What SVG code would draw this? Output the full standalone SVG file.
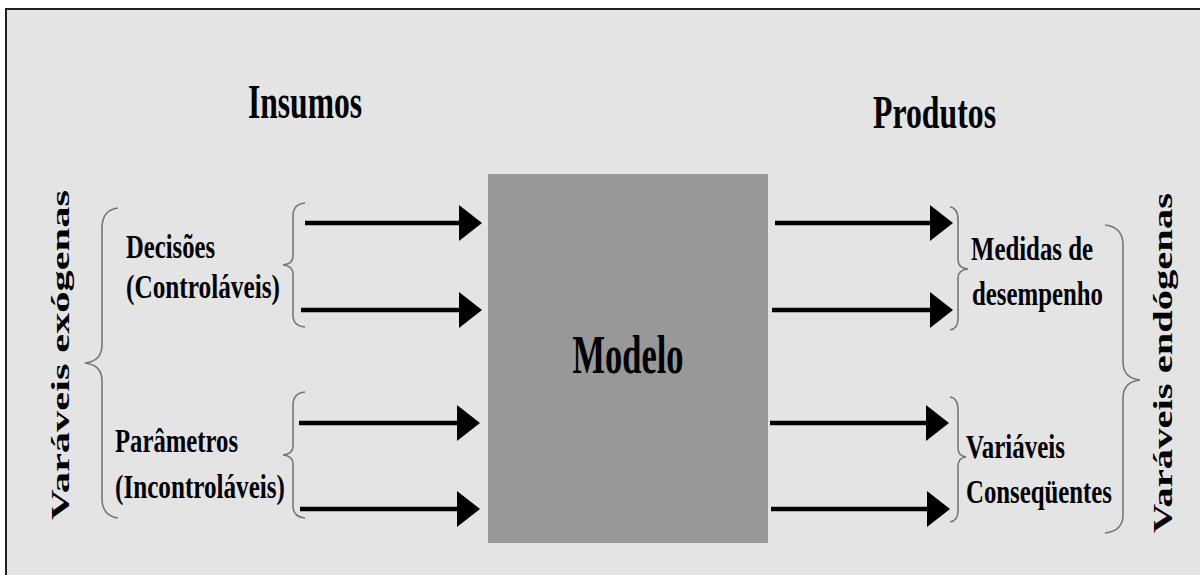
<svg xmlns="http://www.w3.org/2000/svg" width="1200" height="575" viewBox="0 0 1200 575">
<defs>
<style>
.t{font-family:"Liberation Serif","Times New Roman",serif;font-weight:bold;fill:#000}
.br{fill:none;stroke:#777;stroke-width:1.6}
.ln{stroke:#000;stroke-width:4.5;fill:none}
.hd{fill:#000}
</style>
</defs>
<rect x="0" y="0" width="1200" height="575" fill="#ffffff"/>
<rect x="6" y="9" width="1200" height="580" fill="#e4e4e4" stroke="#222" stroke-width="2"/>
<g id="modelo">
<rect x="488" y="174" width="280" height="369" fill="#989898"/>
<text class="t" x="628" y="373" font-size="54" text-anchor="middle" textLength="111" lengthAdjust="spacingAndGlyphs">Modelo</text>
</g>
<g id="titulos">
<text class="t" x="248" y="118" font-size="48" textLength="114" lengthAdjust="spacingAndGlyphs">Insumos</text>
<text class="t" x="873" y="128" font-size="46" textLength="123" lengthAdjust="spacingAndGlyphs">Produtos</text>
</g>
<g id="exogenas">
<text class="t" transform="translate(69,520) rotate(-90)" font-size="26" textLength="330" lengthAdjust="spacingAndGlyphs">Varáveis exógenas</text>
<path class="br" d="M118,208 Q102,210 102,228 L102,345 Q102,361 85,363 Q102,365 102,381 L102,498 Q102,516 118,518"/>
</g>
<g id="endogenas">
<text class="t" transform="translate(1172,533) rotate(-90)" font-size="28" textLength="340" lengthAdjust="spacingAndGlyphs">Varáveis endógenas</text>
<path class="br" d="M1105,225 Q1123,227 1123,245 L1123,362 Q1123,378 1140,380 Q1123,382 1123,398 L1123,515 Q1123,531 1105,533"/>
</g>
<g id="decisoes">
<text class="t" x="126" y="258" font-size="34" textLength="89" lengthAdjust="spacingAndGlyphs">Decisões</text>
<text class="t" x="126" y="298" font-size="34" textLength="154" lengthAdjust="spacingAndGlyphs">(Controláveis)</text>
<path class="br" d="M305,203 Q293,204 293,216 L293,256 Q293,264 283,265 Q293,266 293,274 L293,315 Q293,326 305,327"/>
</g>
<g id="parametros">
<text class="t" x="115" y="452" font-size="34" textLength="123" lengthAdjust="spacingAndGlyphs">Parâmetros</text>
<text class="t" x="115" y="498" font-size="34" textLength="170" lengthAdjust="spacingAndGlyphs">(Incontroláveis)</text>
<path class="br" d="M305,392 Q293,393 293,405 L293,446 Q293,454 283,455 Q293,456 293,464 L293,506 Q293,517 305,518"/>
</g>
<g id="medidas">
<text class="t" x="971" y="260" font-size="34" textLength="122" lengthAdjust="spacingAndGlyphs">Medidas de</text>
<text class="t" x="972" y="305" font-size="34" textLength="131" lengthAdjust="spacingAndGlyphs">desempenho</text>
<path class="br" d="M950,207 Q958,208 958,220 L958,260 Q958,268 968,269 Q958,270 958,278 L958,318 Q958,329 950,330"/>
</g>
<g id="consequentes">
<text class="t" x="966" y="458" font-size="34" textLength="99" lengthAdjust="spacingAndGlyphs">Variáveis</text>
<text class="t" x="966" y="503" font-size="34" textLength="146" lengthAdjust="spacingAndGlyphs">Conseqüentes</text>
<path class="br" d="M950,397 Q958,398 958,410 L958,448 Q958,456 966,457 Q958,458 958,466 L958,510 Q958,521 950,522"/>
</g>
<g id="conectores">
<line class="ln" x1="305" y1="223" x2="462" y2="223"/><polygon class="hd" points="459,205 482,223 459,241"/>
<line class="ln" x1="301" y1="310" x2="462" y2="310"/><polygon class="hd" points="459,292 482,310 459,328"/>
<line class="ln" x1="299" y1="423" x2="460" y2="423"/><polygon class="hd" points="457,405 480,423 457,441"/>
<line class="ln" x1="300" y1="509" x2="460" y2="509"/><polygon class="hd" points="457,491 480,509 457,527"/>
<line class="ln" x1="775" y1="223" x2="933" y2="223"/><polygon class="hd" points="930,205 953,223 930,241"/>
<line class="ln" x1="772" y1="310" x2="933" y2="310"/><polygon class="hd" points="930,292 953,310 930,328"/>
<line class="ln" x1="770" y1="423" x2="929" y2="423"/><polygon class="hd" points="926,405 949,423 926,441"/>
<line class="ln" x1="771" y1="509" x2="930" y2="509"/><polygon class="hd" points="927,491 950,509 927,527"/>
</g>
</svg>
